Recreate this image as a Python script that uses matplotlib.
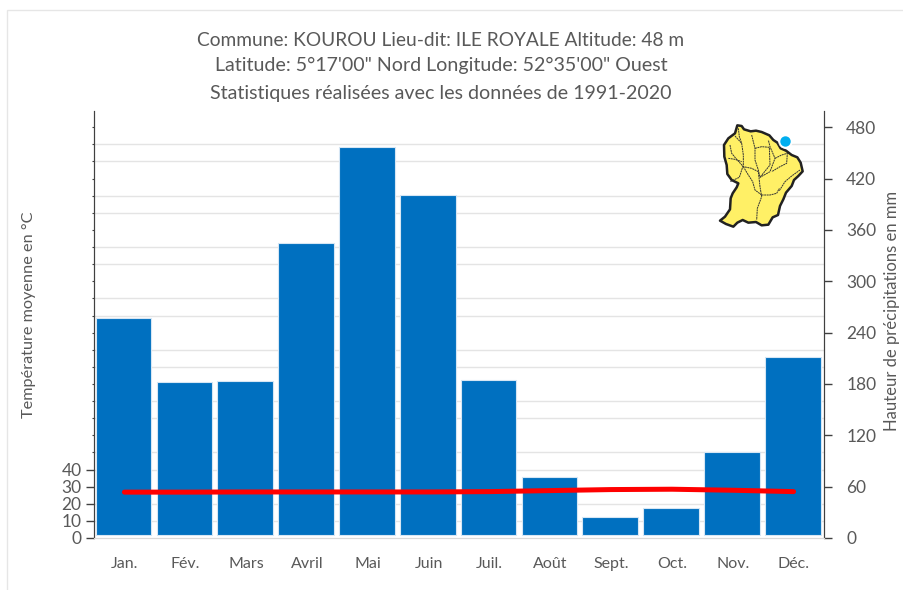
import matplotlib
matplotlib.use("Agg")
import matplotlib.pyplot as plt
from matplotlib.patches import Polygon, Rectangle

plt.rcParams['font.family'] = ['Lato', 'Open Sans', 'DejaVu Sans']

months = ["Jan.", "Fév.", "Mars", "Avril", "Mai", "Juin", "Juil.", "Août", "Sept.", "Oct.", "Nov.", "Déc."]
precip = [257, 182.5, 183.5, 345, 457, 400.5, 185, 71, 24.5, 34.5, 100.5, 212]
temp = [26.8, 26.8, 26.9, 26.9, 26.9, 26.9, 27.1, 27.7, 28.3, 28.5, 27.9, 27.1]
left_labels = [0, 10, 20, 30, 40]
right_labels = [0, 60, 120, 180, 240, 300, 360, 420, 480]
title_lines = ["Commune: KOUROU Lieu-dit: ILE ROYALE Altitude: 48 m",
               "Latitude: 5°17'00\" Nord Longitude: 52°35'00\" Ouest",
               "Statistiques réalisées avec les données de 1991-2020"]

W, H = 904, 590
GREY = "#595959"
fig = plt.figure(figsize=(W / 100, H / 100), dpi=100, facecolor="white")
fig.add_artist(Rectangle((7 / W, -0.01), 1.0, 1 - 10 / H + 0.01, transform=fig.transFigure,
                         fc="white", ec="#E6E6E6", lw=1))

rect = [94 / W, 1 - 538 / H, (824 - 94) / W, (538 - 111) / H]
ax2 = fig.add_axes(rect, zorder=1)
ax = fig.add_axes(rect, zorder=2)
ax.patch.set_visible(False)

x = range(12)
base = 3
ax2.bar(x, [v - base for v in precip], bottom=base, width=0.915, color="#0070C0",
        edgecolor="#D6E6F4", linewidth=0.8, zorder=3)
ax2.set_xlim(-0.485, 11.515)
ax2.set_ylim(0, 499)
ax2.yaxis.tick_right()
ax2.yaxis.set_label_position("right")
ax2.set_yticks(right_labels)
ax2.set_yticks(range(0, 499, 20), minor=True)
ax2.grid(True, which="minor", axis="y", color="#E4E4E4", lw=1, zorder=0)
ax2.tick_params(axis="y", which="minor", length=0)
ax2.tick_params(axis="y", which="major", direction="out", length=6, width=1, color="#404040",
                labelsize=12.5, labelcolor=GREY, pad=10)
ax2.set_xticks([])

ax.plot(x, temp, color="#FF0000", lw=3.6, solid_capstyle="round", zorder=5)
ax.set_xlim(-0.5, 11.5)
ax.set_ylim(0, 249.5)
ax.set_yticks(left_labels)
ax.set_yticks(range(50, 250, 10), minor=True)
ax.tick_params(axis="y", which="major", direction="out", length=6, width=1, color="#404040",
               labelsize=12.5, labelcolor=GREY, pad=3)
ax.tick_params(axis="y", which="minor", direction="out", length=1.5, width=0.8, color="#404040")
ax.set_xticks(list(x))
ax.set_xticklabels(months)
ax.tick_params(axis="x", length=0, labelsize=11.5, labelcolor=GREY, pad=14)

for a in (ax, ax2):
    a.spines["top"].set_visible(False)
    a.spines["left"].set_color("#404040")
    a.spines["right"].set_color("#404040")
    a.spines["bottom"].set_color("#D9D9D9")
fig.text(29 / W, 1 - 315 / H, "Température moyenne en °C", rotation=90, ha="center", va="center",
         fontsize=11.7, color=GREY)
fig.text(892 / W, 1 - 311 / H, "Hauteur de précipitations en mm", rotation=90, ha="center", va="center",
         fontsize=12, color=GREY)

for line, y, size in zip(title_lines, [40, 65, 93], [13.75, 14.1, 14.1]):
    fig.text(441 / W, 1 - y / H, line, ha="center", va="center", fontsize=size, color=GREY)

# Map of French Guiana, in pixel coordinates of the figure
ov = fig.add_axes([0, 0, 1, 1], zorder=3)
ov.set_xlim(0, W); ov.set_ylim(H, 0); ov.axis("off")
zoom_outline = [(172,76),(185,78),(192,88),(212,94),(228,92),(245,96),(268,106),(280,120),(292,128),(302,145),
                (318,152),(335,165),(352,172),(362,188),(368,214),(355,228),(342,240),(335,258),(318,278),
                (310,298),(300,318),(294,345),(278,352),(265,374),(245,376),(228,366),(205,368),(188,360),
                (172,368),(160,380),(138,372),(120,362),(135,350),(150,328),(152,295),(158,280),(170,262),
                (175,250),(155,240),(142,222),(140,195),(133,170),(132,135),(145,115),(165,100)]
rivers = [
    [(175,85),(178,110),(185,130),(190,165),(190,195),(178,232),(150,245)],
    [(150,135),(155,160),(170,178),(190,200),(215,205),(235,215),(240,260),(245,290),(232,325),(230,360)],
    [(215,105),(225,145),(225,180),(235,210),(240,232),(270,215),(285,175),(270,140),(265,120)],
    [(225,145),(245,140),(268,142),(270,195),(240,232)],
    [(145,175),(165,178),(185,185)],
    [(285,175),(305,165),(322,160),(320,190),(300,200),(275,215)],
    [(298,272),(315,245),(335,228),(360,210)],
    [(245,285),(270,285),(290,280),(298,265)],
    [(190,200),(205,225),(218,245),(225,270),(245,285)],
    [(165,108),(185,130)],
]
def conv(pts):
    return [(680 + px / 3, 100 + py / 3) for px, py in pts]
ov.add_patch(Polygon(conv(zoom_outline), closed=True, fc="#FFF066", ec="#222222", lw=1.8, joinstyle="round"))
for r in rivers:
    xs, ys = zip(*conv(r))
    ov.plot(xs, ys, color="#333333", lw=0.7, ls=(0, (2, 0.6)))
ov.plot([784.7], [141.3], "o", ms=10.5, mfc="white", mec="none", alpha=0.85)
ov.plot([784.7], [141.3], "o", ms=7.5, mfc="#00AEEF", mec="none")

fig.savefig("out.png", dpi=100)
